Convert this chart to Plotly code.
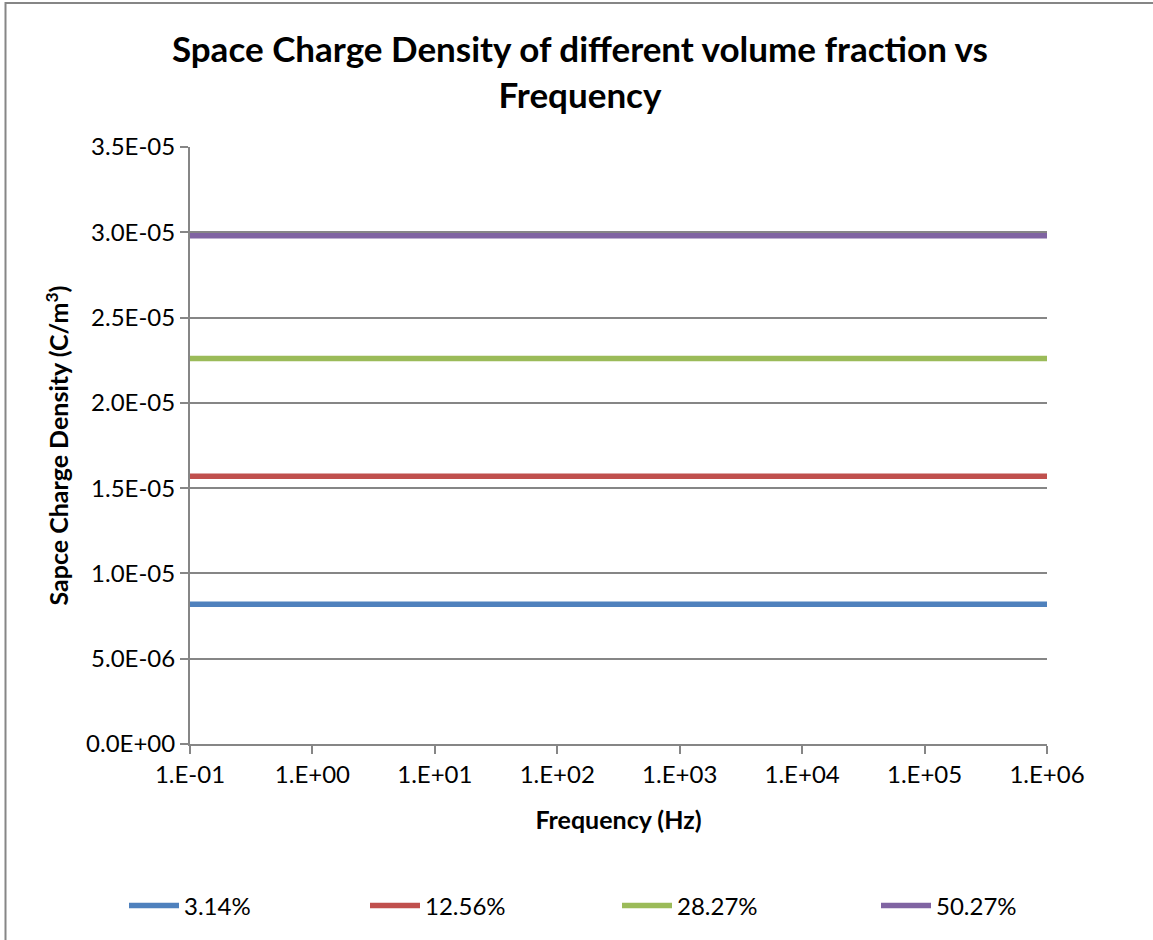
import plotly.graph_objects as go

# Frequency sweep points (Hz)
frequency = [0.1, 1, 10, 100, 1000, 10000, 100000, 1000000]

# Space charge density (C/m^3) for each volume fraction
vf_3_14 = [8.2e-6, 8.2e-6, 8.2e-6, 8.2e-6, 8.2e-6, 8.2e-6, 8.2e-6, 8.2e-6]
vf_12_56 = [1.57e-5, 1.57e-5, 1.57e-5, 1.57e-5, 1.57e-5, 1.57e-5, 1.57e-5, 1.57e-5]
vf_28_27 = [2.26e-5, 2.26e-5, 2.26e-5, 2.26e-5, 2.26e-5, 2.26e-5, 2.26e-5, 2.26e-5]
vf_50_27 = [2.98e-5, 2.98e-5, 2.98e-5, 2.98e-5, 2.98e-5, 2.98e-5, 2.98e-5, 2.98e-5]

series_names = ["3.14%", "12.56%", "28.27%", "50.27%"]

x_tickvals = [0.1, 1, 10, 100, 1000, 10000, 100000, 1000000]
x_ticktext = ["1.E-01", "1.E+00", "1.E+01", "1.E+02", "1.E+03", "1.E+04", "1.E+05", "1.E+06"]

y_tickvals = [0, 5e-6, 1e-5, 1.5e-5, 2e-5, 2.5e-5, 3e-5, 3.5e-5]
y_ticktext = ["0.0E+00", "5.0E-06", "1.0E-05", "1.5E-05", "2.0E-05", "2.5E-05", "3.0E-05", "3.5E-05"]

colors = ["#4F81BD", "#C0504D", "#9BBB59", "#8064A2"]
FONT = "Lato"
GRAY = "#868686"

W, H = 1153, 940
L, R, T, B = 190, 106, 147, 196
plot_w = W - L - R
plot_h = H - T - B

fig = go.Figure()

# one legend per series so each entry sits at its own spot along the bottom
legend_px = [124, 365, 617, 876]
legend_keys = ["legend", "legend2", "legend3", "legend4"]
for ys, name, col, lk in zip([vf_3_14, vf_12_56, vf_28_27, vf_50_27], series_names, colors, legend_keys):
    fig.add_trace(go.Scatter(
        x=frequency, y=ys, name=name, mode="lines",
        line=dict(color=col, width=5.5),
        legend=lk,
    ))

legend_y = (T + plot_h - 906) / plot_h
legend_cfg = {}
for lk, px in zip(legend_keys, legend_px):
    legend_cfg[lk] = dict(
        x=(px - L) / plot_w, y=legend_y, xanchor="left", yanchor="middle",
        orientation="h", bgcolor="rgba(0,0,0,0)",
        font=dict(family=FONT, size=24, color="#000000"),
        itemwidth=50, tracegroupgap=0,
    )

fig.update_layout(
    width=W, height=H,
    margin=dict(l=L, r=R, t=T, b=B),
    paper_bgcolor="white", plot_bgcolor="white",
    showlegend=True,
    title=dict(
        text="Space Charge Density of different volume fraction vs<br>Frequency",
        x=0.503, xanchor="center", y=0.934, yanchor="top",
        font=dict(family=FONT, size=35, color="#000000", weight="bold"),
    ),
    font=dict(family=FONT, color="#000000"),
    **legend_cfg,
)

fig.update_xaxes(
    type="log", range=[-1, 6],
    tickvals=x_tickvals, ticktext=x_ticktext,
    tickfont=dict(family=FONT, size=24, color="#000000"),
    showgrid=False, zeroline=False,
    showline=True, linecolor=GRAY, linewidth=2,
    ticks="outside", ticklen=8, tickcolor=GRAY, tickwidth=2,
    title=dict(text="Frequency (Hz)", standoff=25,
               font=dict(family=FONT, size=25, color="#000000", weight="bold")),
)

fig.update_yaxes(
    range=[0, 3.5e-5],
    tickvals=y_tickvals, ticktext=y_ticktext,
    tickfont=dict(family=FONT, size=24, color="#000000"),
    showgrid=True, gridcolor=GRAY, gridwidth=1.5, zeroline=False,
    showline=True, linecolor=GRAY, linewidth=2,
    ticks="outside", ticklen=8, tickcolor=GRAY, tickwidth=2,
    title=dict(text="Sapce Charge Density (C/m<sup>3</sup>)", standoff=10,
               font=dict(family=FONT, size=25, color="#000000", weight="bold")),
)

# Outer chart border
fig.add_shape(
    type="rect", xref="paper", yref="paper",
    x0=(5.5 - L) / plot_w, x1=(W + 20 - L) / plot_w,
    y0=(T + plot_h - 3) / plot_h, y1=(T + plot_h - (H + 20)) / plot_h,
    line=dict(color=GRAY, width=2), fillcolor="rgba(0,0,0,0)", layer="below",
)

fig.write_html("out.html")
